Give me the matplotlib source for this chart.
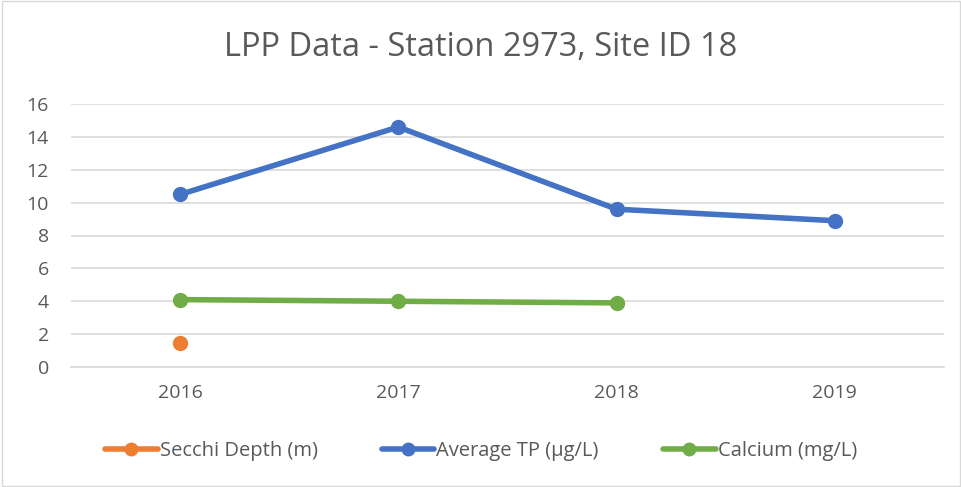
import numpy as np
import matplotlib.pyplot as plt
from matplotlib.patches import Rectangle

years = ["2016", "2017", "2018", "2019"]
secchi = [1.45, np.nan, np.nan, np.nan]
avg_tp = [10.5, 14.6, 9.6, 8.9]
calcium = [4.1, 4.0, 3.9, np.nan]

plt.rcParams['font.family'] = ['Open Sans', 'DejaVu Sans']
text_col = '#595959'

fig = plt.figure(figsize=(9.62, 4.87), dpi=100)
ax = fig.add_axes([71 / 962, 1 - 367 / 487, (944 - 71) / 962, (367 - 104) / 487])

x = np.arange(len(years))
ax.plot(x, secchi, color='#ED7D31', lw=4, marker='o', ms=10, label='Secchi Depth (m)', solid_capstyle='round')
ax.plot(x, avg_tp, color='#4472C4', lw=4, marker='o', ms=10, label='Average TP (µg/L)', solid_capstyle='round')
ax.plot(x, calcium, color='#70AD47', lw=4, marker='o', ms=10, label='Calcium (mg/L)', solid_capstyle='round')

ax.set_xlim(-0.5, 3.5)
ax.set_ylim(0, 16)
ax.set_yticks(range(0, 17, 2))
ax.set_xticks(x)
ax.set_xticklabels(years)
ax.grid(axis='y', color='#d9d9d9', lw=1.2)
ax.set_axisbelow(True)
for s in ['top', 'right', 'left']:
    ax.spines[s].set_visible(False)
ax.spines['bottom'].set_color('#d9d9d9')
ax.spines['bottom'].set_linewidth(1.2)
ax.tick_params(length=0, labelsize=14, colors=text_col)
ax.tick_params(axis='x', pad=12)
ax.tick_params(axis='y', pad=16)

fig.text(0.5, 1 - 48 / 487, 'LPP Data - Station 2973, Site ID 18', ha='center', va='center',
         fontsize=23.5, color=text_col)

fig.legend(loc='center', bbox_to_anchor=(0.5, 1 - 451 / 487), ncol=3, frameon=False,
           fontsize=14.5, labelcolor=text_col, handlelength=2.6, handletextpad=0.1,
           columnspacing=3.2, markerscale=0.9)

fig.patches.append(Rectangle((0.002, 0.002), 0.996, 0.996, transform=fig.transFigure,
                             fill=False, edgecolor='#d9d9d9', lw=1))

fig.savefig('out.png', dpi=100)
